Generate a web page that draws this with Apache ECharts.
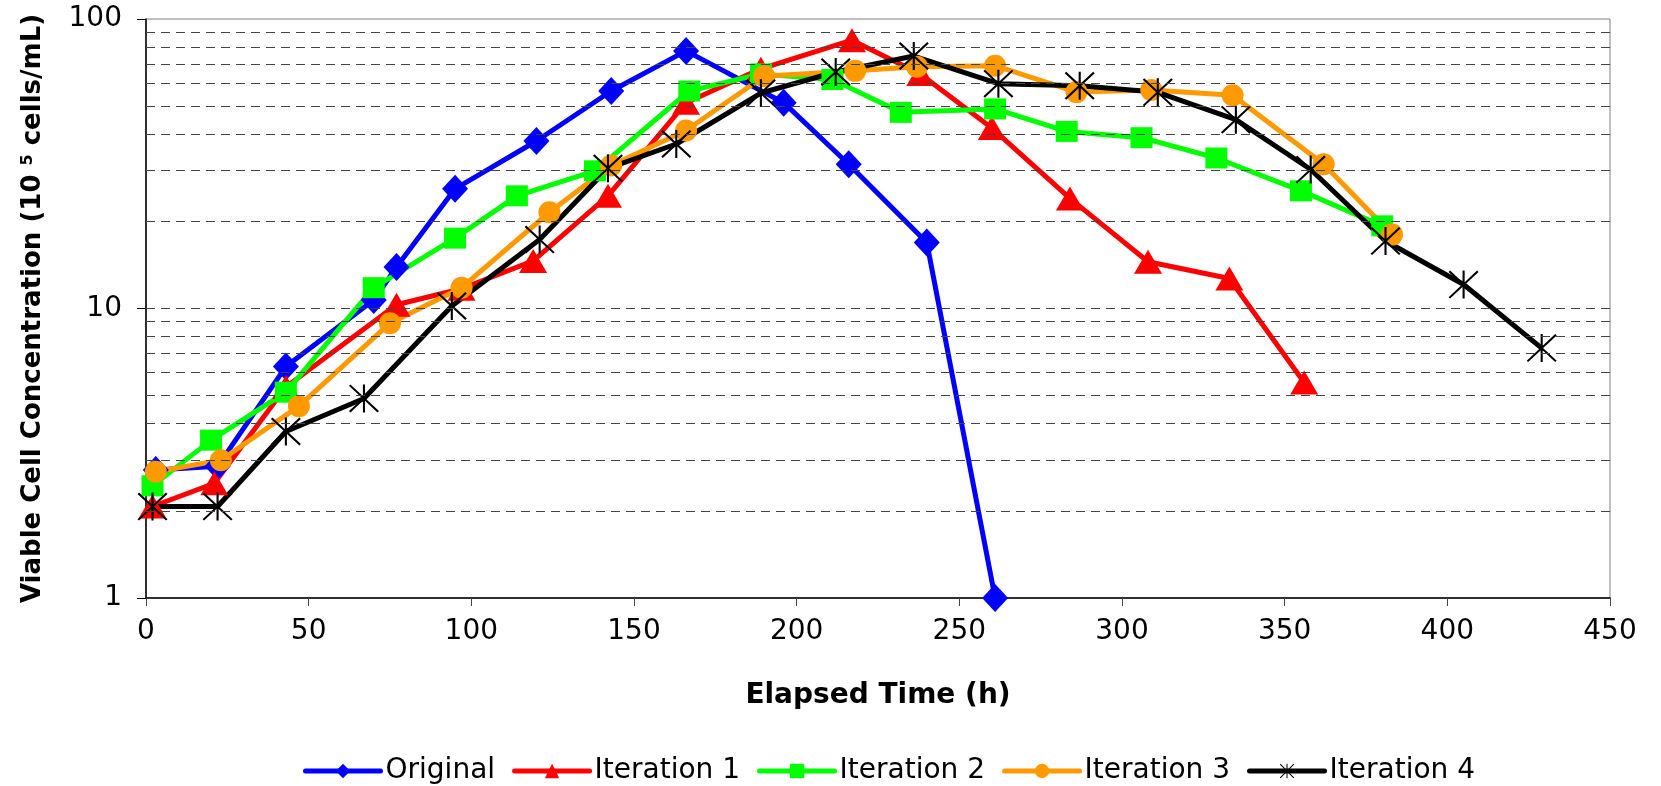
<!DOCTYPE html>
<html>
<head>
<meta charset="utf-8">
<title>Viable Cell Concentration</title>
<script src="https://cdn.jsdelivr.net/npm/echarts@6/dist/echarts.min.js"></script>
<style>
  html, body { margin: 0; padding: 0; background: #fff; }
  #chart { width: 1661px; height: 786px; }
</style>
</head>
<body>
<div id="chart"></div>
<script>
// elapsed time (h) and viable cell concentration (10^5 cells/mL)
const origT = [3, 22, 43, 70, 77, 95, 120, 143, 166, 196, 216, 240, 261];
const origV = [2.77, 2.85, 6.3, 10.7, 13.9, 25.9, 37.9, 56.4, 77.6, 51.4, 31.5, 16.9, 1];

const it1T = [2, 21, 43, 77, 97, 119, 142, 166, 189, 217, 238, 260, 284, 308, 333, 356];
const it1V = [2.07, 2.49, 5.36, 10.3, 11.7, 14.6, 24.5, 51.4, 67.3, 84.5, 64.6, 42, 24, 14.5, 12.7, 5.55];

const it2T = [2, 20, 43, 70, 95, 114, 138, 167, 189, 211, 232, 261, 283, 306, 329, 355, 380];
const it2V = [2.44, 3.51, 5.14, 11.8, 17.5, 24.5, 29.9, 56.4, 64.6, 61.8, 47.6, 48.9, 40.9, 38.9, 33.1, 25.5, 19.3];

const it3T = [3, 23, 47, 75, 97, 124, 143, 166, 190, 218, 237, 261, 286, 309, 334, 362, 383];
const it3V = [2.73, 2.99, 4.6, 8.9, 11.8, 21.5, 31.2, 41.2, 63.4, 66.2, 68.4, 69, 55.9, 56.9, 54.5, 31.5, 18];

const it4T = [2, 22, 43, 67, 94, 121, 142, 163, 189, 212, 236, 262, 287, 311, 335, 358, 381, 405, 429];
const it4V = [2.07, 2.07, 3.76, 4.89, 10.2, 17.3, 30.5, 37, 55.5, 65.6, 74.5, 59.8, 58.8, 55.8, 44.9, 30.2, 17.1, 12.1, 7.3];

const seriesNames = ['Original', 'Iteration 1', 'Iteration 2', 'Iteration 3', 'Iteration 4'];
const gridValues = [2, 3, 4, 5, 6, 7, 8, 9, 10, 20, 30, 40, 50, 60, 70, 80, 90];

const pairs = (t, v) => t.map((x, i) => [x, v[i]]);

// asterisk marker for Iteration 4
const asterisk = 'path://M46.5,0 L53.5,0 L53.5,100 L46.5,100 Z M0,5 L5,0 L100,95 L95,100 Z M95,0 L100,5 L5,100 L0,95 Z';

const chart = echarts.init(document.getElementById('chart'));

const lineSeries = (name, data, color, symbol, size) => ({
  name: name,
  type: 'line',
  data: data,
  symbol: symbol,
  symbolSize: size,
  clip: false,
  z: 3,
  lineStyle: { color: color, width: 5 },
  itemStyle: { color: color },
  emphasis: { disabled: true }
});

chart.setOption({
  animation: false,
  textStyle: { fontFamily: 'DejaVu Sans' },
  grid: {
    left: 146,
    right: 51,
    top: 19,
    bottom: 188,
    show: true,
    borderColor: '#808080',
    borderWidth: 1
  },
  legend: {
    data: seriesNames,
    left: 298,
    top: 752,
    itemWidth: 75,
    itemHeight: 18,
    itemGap: 17,
    lineStyle: { width: 5, cap: 'round' },
    textStyle: { fontFamily: 'DejaVu Sans', fontSize: 28, color: '#000' }
  },
  xAxis: {
    type: 'value',
    min: 0,
    max: 450,
    interval: 50,
    name: 'Elapsed Time (h)',
    nameLocation: 'middle',
    nameGap: 84,
    nameTextStyle: { fontFamily: 'DejaVu Sans', fontWeight: 'bold', fontSize: 28, color: '#000' },
    axisLine: { show: true, lineStyle: { color: '#000', width: 1.5 } },
    axisTick: { show: true, length: 8, lineStyle: { color: '#444' } },
    axisLabel: { fontSize: 28, color: '#000', margin: 20 },
    splitLine: { show: false }
  },
  yAxis: {
    type: 'log',
    logBase: 10,
    min: 1,
    max: 100,
    name: 'Viable Cell Concentration (10 {sup|5} cells/mL)',
    nameLocation: 'middle',
    nameGap: 100,
    nameTextStyle: {
      fontFamily: 'DejaVu Sans',
      fontWeight: 'bold',
      fontSize: 26,
      color: '#000',
      rich: {
        sup: { fontFamily: 'DejaVu Sans', fontWeight: 'bold', fontSize: 16, color: '#000', verticalAlign: 'top', lineHeight: 26 }
      }
    },
    axisLine: { show: true, lineStyle: { color: '#000', width: 1.5 } },
    axisTick: { show: true, length: 9, lineStyle: { color: '#000' } },
    axisLabel: { fontSize: 28, color: '#000', margin: 24 },
    splitLine: { show: false }
  },
  series: [
    {
      name: 'grid',
      type: 'line',
      data: [],
      z: 1,
      silent: true,
      markLine: {
        silent: true,
        symbol: 'none',
        label: { show: false },
        lineStyle: { color: '#444', width: 1, type: [9, 6] },
        data: gridValues.map(v => ({ yAxis: v }))
      }
    },
    lineSeries('Original', pairs(origT, origV), '#0000FF', 'diamond', [26, 28]),
    lineSeries('Iteration 1', pairs(it1T, it1V), '#FF0000', 'triangle', [28, 24]),
    lineSeries('Iteration 2', pairs(it2T, it2V), '#00FF00', 'rect', [22, 21]),
    lineSeries('Iteration 3', pairs(it3T, it3V), '#FF9900', 'circle', 22),
    lineSeries('Iteration 4', pairs(it4T, it4V), '#000000', asterisk, [30, 28])
  ]
});
</script>
</body>
</html>
